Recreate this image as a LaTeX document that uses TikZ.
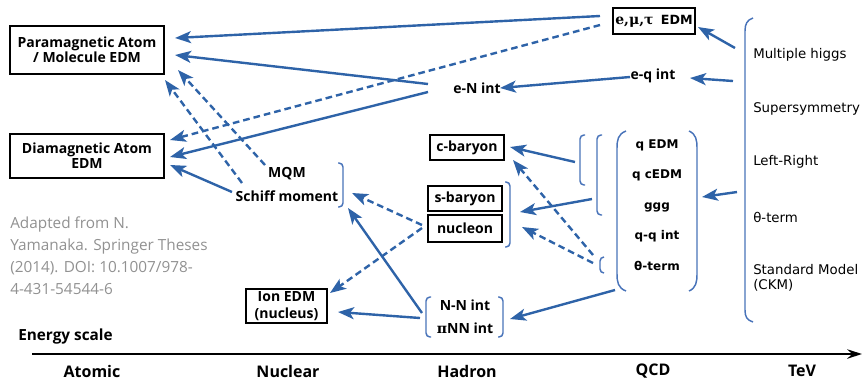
\documentclass[tikz,border=0pt]{standalone}
\usepackage{fontspec}
\setmainfont{Open Sans}
\newfontfamily\dvs{DejaVu Sans}
\newfontfamily\dvserif{DejaVu Serif}
\usetikzlibrary{arrows.meta}
\definecolor{arrblue}{RGB}{46,99,168}
\definecolor{brblue}{RGB}{72,115,185}
\definecolor{srcgray}{RGB}{145,145,145}
\begin{document}
\begin{tikzpicture}[x=0.75pt,y=-0.75pt,
 box/.style={draw=black,line width=1.1pt,align=center,font=\bfseries\fontsize{10.5}{11.5}\selectfont,inner sep=0pt},
 lbl/.style={align=center,font=\bfseries\fontsize{10.5}{11}\selectfont,inner sep=1pt},
 qlbl/.style={font=\dvs\bfseries\fontsize{9}{10}\selectfont,inner sep=1pt},
 model/.style={anchor=west,align=left,font=\dvs\fontsize{10}{11}\selectfont,inner sep=0pt},
 arr/.style={draw=arrblue,line width=1.8pt,-{Stealth[length=12pt,width=9pt,inset=3pt]}},
 darr/.style={arr,dash pattern=on 5pt off 3pt},
 brk/.style={draw=brblue,line width=1.1pt,rounded corners=3pt},
 axlbl/.style={font=\bfseries\fontsize{12}{13}\selectfont,inner sep=0pt}]
\useasboundingbox (0,0) rectangle (863,380);

% boxes
\node[box,minimum width=115.5pt,minimum height=36pt] (para) at (87,50) {Paramagnetic Atom\\/ Molecule EDM};
\node[box,minimum width=115.5pt,minimum height=33pt] (dia) at (87,156) {Diamagnetic Atom\\EDM};
\node[box,minimum width=61.5pt,minimum height=19.5pt] (emt) at (654,21) {{\dvserif e,μ,τ}\ \ {\dvs\fontsize{9.5}{10}\selectfont EDM}};
\node[box,minimum width=55.5pt,minimum height=19pt] (cbar) at (467,147.5) {c-baryon};
\node[box,minimum width=55.5pt,minimum height=19pt] (sbar) at (465,198.5) {s-baryon};
\node[box,minimum width=55.5pt,minimum height=20pt] (nucl) at (465,228.5) {nucleon};
\node[box,minimum width=61pt,minimum height=25.5pt,font=\bfseries\fontsize{10.5}{12.5}\selectfont] (ion) at (286.5,306) {Ion EDM\\(nucleus)};

% labels
\node[lbl] (eN) at (477,88) {e-N int};
\node[lbl] (eq) at (653,76) {e-q int};
\node[lbl] (mqm) at (287,174) {MQM};
\node[lbl] (schiff) at (287,196) {Schiff moment};
\node[lbl] (nn) at (465,305) {N-N int};
\node[lbl] (pinn) at (465,328) {{\dvserif π}NN int};

\node[qlbl] (qedm) at (657,145) {q EDM};
\node[qlbl] (qcedm) at (657,175) {q cEDM};
\node[qlbl] (ggg) at (657,207) {ggg};
\node[qlbl] (qq) at (657,236) {q-q int};
\node[qlbl] (qth) at (657,266) {θ-term};

\node[model] (mh) at (753,55) {Multiple higgs};
\node[model] (susy) at (753,109) {Supersymmetry};
\node[model] (lr) at (753,162) {Left-Right};
\node[model] (mth) at (753,217) {θ-term};
\node[model] (sm) at (753,278) {Standard Model\\(CKM)};

\node[anchor=north west,align=left,font=\fontsize{11.5}{16.5}\selectfont,text=srcgray,inner sep=0pt] (note) at (10,216) {Adapted from N.\\Yamanaka. Springer Theses\\(2014). DOI: 10.1007/978-\\4-431-54544-6};

% energy axis
\node[axlbl,anchor=west,font=\bfseries\fontsize{11.5}{13}\selectfont] (es) at (18,337) {Energy scale};
\coordinate (ax0) at (32,354);
\coordinate (axm) at (235,354);
\coordinate (ax1) at (862,354);
\draw[line width=2.2pt] (ax0) -- (axm);
\draw[line width=1.5pt,-{Stealth[length=11pt,width=7pt]}] (axm) -- (ax1);
\node[axlbl] (atomic) at (92,371) {Atomic};
\node[axlbl] (nuclear) at (288,371) {Nuclear};
\node[axlbl] (hadron) at (467,371) {Hadron};
\node[axlbl] (qcd) at (653,371) {QCD};
\node[axlbl] (tev) at (802,371) {TeV};

% brackets
\draw[brk] (338,163) -- (343,163) -- (343,207) -- (338,207);
\draw[brk] (505,182) -- (510,182) -- (510,247) -- (505,247);
\draw[brk] (431,297) -- (426,297) -- (426,337) -- (431,337);
\draw[brk] (498,297) -- (503,297) -- (503,337) -- (498,337);
\draw[brk] (585,135) -- (580,135) -- (580,185) -- (585,185);
\draw[brk] (602,135) -- (597,135) -- (597,215) -- (602,215);
\draw[brk] (604,257) -- (600,257) -- (600,273) -- (604,273);
\draw[draw=brblue,line width=1.1pt] (626,131) .. controls (618,134) and (617,140) .. (617,148) -- (617,274) .. controls (617,282) and (618,288) .. (626,291);
\draw[draw=brblue,line width=1.1pt] (689,131) .. controls (696,134) and (697,140) .. (697,148) -- (697,274) .. controls (697,282) and (696,288) .. (689,291);
\draw[draw=brblue,line width=1.1pt] (753,18) .. controls (747,20) and (745,24) .. (745,31) -- (745,310) .. controls (745,317) and (747,320) .. (753,322);

% connector end points
\coordinate (emtA) at (600,16); \coordinate (paraA) at (175,38);
\coordinate (emtB) at (600,25); \coordinate (diaA) at (170,140);
\coordinate (mhA) at (735,48); \coordinate (emtIn) at (698,27);
\coordinate (susyA) at (733,81); \coordinate (eqIn) at (690,78);
\coordinate (eqOut) at (630,77); \coordinate (eNIn) at (500,88);
\coordinate (eNOutA) at (428,84); \coordinate (paraB) at (175,55);
\coordinate (eNOutB) at (428,92); \coordinate (diaB) at (170,157);
\coordinate (lrA) at (737,192); \coordinate (qIn) at (702,197);
\coordinate (brOneOut) at (575,162); \coordinate (cbarIn) at (510,147);
\coordinate (brTwoOut) at (592,199); \coordinate (snInA) at (520,212);
\coordinate (thOutA) at (593,263); \coordinate (snInB) at (522,227);
\coordinate (thOutB) at (593,255); \coordinate (cbarInB) at (513,160);
\coordinate (qOut) at (615,290); \coordinate (nnIn) at (510,319);
\coordinate (nuOutA) at (422,225); \coordinate (schIn) at (352,193);
\coordinate (nuOutB) at (422,228); \coordinate (ionIn) at (330,293);
\coordinate (nnOutA) at (422,313); \coordinate (schInB) at (348,208);
\coordinate (nnOutB) at (420,318); \coordinate (ionInB) at (338,312);
\coordinate (schOut) at (232,192); \coordinate (diaC) at (170,165);
\coordinate (mqmOut) at (265,165); \coordinate (paraC) at (178,70);
\coordinate (schOutB) at (242,183); \coordinate (paraD) at (165,80);

% connectors
\draw[arr] (emtA) -- (paraA);
\draw[darr] (emtB) -- (diaA);
\draw[arr] (mhA) -- (emtIn);
\draw[arr] (susyA) -- (eqIn);
\draw[arr] (eqOut) -- (eNIn);
\draw[arr] (eNOutA) -- (paraB);
\draw[arr] (eNOutB) -- (diaB);
\draw[arr] (lrA) -- (qIn);
\draw[arr] (brOneOut) -- (cbarIn);
\draw[arr] (brTwoOut) -- (snInA);
\draw[darr] (thOutA) -- (snInB);
\draw[darr] (thOutB) -- (cbarInB);
\draw[arr] (qOut) -- (nnIn);
\draw[darr] (nuOutA) -- (schIn);
\draw[darr] (nuOutB) -- (ionIn);
\draw[arr] (nnOutA) -- (schInB);
\draw[arr] (nnOutB) -- (ionInB);
\draw[arr] (schOut) -- (diaC);
\draw[darr] (mqmOut) -- (paraC);
\draw[darr] (schOutB) -- (paraD);
\end{tikzpicture}
\end{document}
